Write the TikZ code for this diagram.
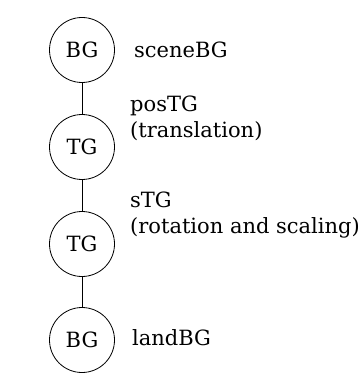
\documentclass[tikz,border=0pt]{standalone}
\usepackage{fontspec}
\setmainfont{DejaVu Serif}
\begin{document}
\begin{tikzpicture}[x=1pt,y=-1pt,
  gnode/.style={circle,draw=black,line width=0.8pt,minimum size=65pt,inner sep=0pt,font=\fontsize{21}{26}\selectfont},
  glabel/.style={anchor=base west,align=left,inner sep=0pt,font=\fontsize{21}{26}\selectfont},
  link/.style={draw=black,line width=0.9pt}]
\useasboundingbox (0,0) rectangle (360,374);
\fill[white] (0,0) rectangle (360,374);
\node[gnode] (n1) at (82,50) {BG};
\node[gnode] (n2) at (82,147) {TG};
\node[gnode] (n3) at (82,244) {TG};
\node[gnode] (n4) at (82,340) {BG};
\draw[link] (n1) -- (n2);
\draw[link] (n2) -- (n3);
\draw[link] (n3) -- (n4);
\node[glabel] (l1) at (134,58) {sceneBG};
\node[glabel] (l2) at (130,138) {posTG\\(translation)};
\node[glabel] (l3) at (130,233) {sTG\\(rotation and scaling)};
\node[glabel] (l4) at (132,345) {landBG};
\end{tikzpicture}
\end{document}
